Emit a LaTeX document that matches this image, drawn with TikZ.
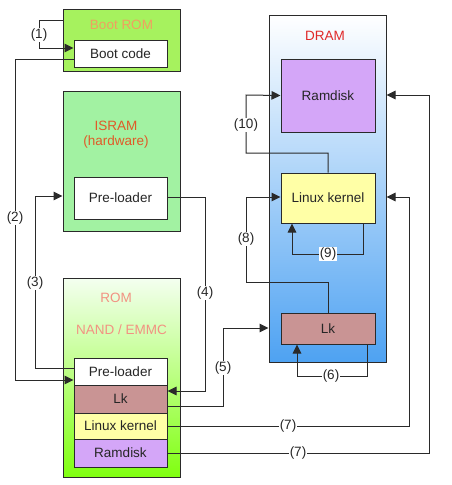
\documentclass[tikz,border=0pt]{standalone}
\usepackage{fontspec}
\setmainfont{Liberation Sans}
\usetikzlibrary{arrows.meta,calc}
\definecolor{lime}{HTML}{A6F25E}
\definecolor{isramg}{HTML}{A2F2A2}
\definecolor{romtop}{HTML}{F4FFF0}
\definecolor{rombot}{HTML}{80FF10}
\definecolor{dramtop}{HTML}{FFFFFF}
\definecolor{drambot}{HTML}{4EA2F2}
\definecolor{lkc}{HTML}{C99494}
\definecolor{kernc}{HTML}{FFFFA6}
\definecolor{ramc}{HTML}{D4A6F8}
\definecolor{lnc}{HTML}{2A2A2A}
\definecolor{t1}{HTML}{F0A060}
\definecolor{t2}{HTML}{E05A28}
\definecolor{t3}{HTML}{F29282}
\definecolor{t4}{HTML}{E02828}
\tikzset{
  box/.style={draw=lnc, line width=1pt, inner sep=0pt, anchor=center},
  txt/.style={font=\fontsize{13.5}{15}\selectfont, text=black!85},
  conn/.style={draw=lnc, line width=1pt},
  arr/.style={conn, -{Triangle[length=9pt,width=8.5pt]}},
  lbl/.style={fill=white, inner sep=1pt, font=\fontsize{13.5}{15}\selectfont, text=black!85},
  ttl/.style={font=\fontsize{13.5}{15}\selectfont}
}
\begin{document}
\begin{tikzpicture}[x=1pt,y=-1pt]
\useasboundingbox[fill=white] (0,0) rectangle (452,485);
% containers
\node[box, fill=lime, minimum width=117pt, minimum height=62pt] (bootrom) at (121.5,40) {};
\node[box, fill=isramg, minimum width=117pt, minimum height=140pt] (isram) at (121.5,161) {};
\node[box, top color=romtop, bottom color=rombot, minimum width=117pt, minimum height=199pt] (rom) at (121.5,377.5) {};
\node[box, top color=dramtop, bottom color=drambot, minimum width=117pt, minimum height=347pt] (dram) at (327.5,188.5) {};
% titles
\node[ttl, text=t1] (tboot) at (121.5,25) {Boot ROM};
\node[ttl, text=t2] (tisram1) at (116,126) {ISRAM};
\node[ttl, text=t2] (tisram2) at (116,142) {(hardware)};
\node[ttl, text=t3] (trom1) at (116,298) {ROM};
\node[ttl, text=t3] (trom2) at (121.5,330) {NAND / EMMC};
\node[ttl, text=t4] (tdram) at (325,36) {DRAM};
% inner boxes
\node[box, txt, fill=white, minimum width=93pt, minimum height=27pt] (bootcode) at (120.5,53.5) {Boot code};
\node[box, txt, fill=white, minimum width=93pt, minimum height=42pt] (preI) at (120.5,198) {Pre-loader};
\node[box, txt, fill=white, minimum width=93pt, minimum height=27pt] (preR) at (120.5,371.5) {Pre-loader};
\node[box, txt, fill=lkc, minimum width=93pt, minimum height=28pt] (lkR) at (120.5,399) {Lk};
\node[box, txt, fill=kernc, minimum width=93pt, minimum height=26pt] (linuxR) at (120.5,426) {Linux kernel};
\node[box, txt, fill=ramc, minimum width=93pt, minimum height=28pt] (ramR) at (120.5,453) {Ramdisk};
\node[box, txt, fill=ramc, minimum width=94pt, minimum height=73pt] (ramD) at (328,95.5) {Ramdisk};
\node[box, txt, fill=kernc, minimum width=94pt, minimum height=50pt] (linuxD) at (328,198) {Linux kernel};
\node[box, txt, fill=lkc, minimum width=94pt, minimum height=31pt] (lkD) at (328,328.5) {Lk};
% connectors
\draw[arr] (bootrom.west |- 0,20) -- (39,20) -- (39,48) -- (bootcode.west |- 0,48);
\node[lbl] (l1) at (39,35) {(1)};
\draw[arr] (bootcode.west |- 0,59) -- (15,59) -- (15,380) -- (preR.west |- 0,380);
\node[lbl] (l2) at (15,218) {(2)};
\draw[arr] (preR.west |- 0,368) -- (35,368) -- (35,196) -- (isram.west |- 0,196);
\node[lbl] (l3) at (35,283) {(3)};
\draw[arr] (preI.east |- 0,197) -- (205,197) -- (205,391) -- (lkR.east |- 0,391);
\node[lbl] (l4) at (205,293) {(4)};
\draw[arr] (lkR.east |- 0,406) -- (223,406) -- (223,328) -- (dram.west |- 0,328);
\node[lbl] (l5) at (223,368) {(5)};
\draw[arr] (lkD.south -| 367,0) -- (367,376) -- (297,376) -- (lkD.south -| 297,0);
\node[lbl] (l6) at (331,376) {(6)};
\draw[arr] (linuxR.east) -- (409,426) -- (409,197) -- (dram.east |- 0,197);
\node[lbl] (l7a) at (288,426) {(7)};
\draw[arr] (ramR.east) -- (429,453) -- (429,95) -- (dram.east |- 0,95);
\node[lbl] (l7b) at (298,453) {(7)};
\draw[arr] (lkD.north) -- (328,282) -- (246,282) -- (246,197) -- (linuxD.west |- 0,197);
\node[lbl] (l8) at (246,239) {(8)};
\draw[arr] (linuxD.south -| 363,0) -- (363,254) -- (292,254) -- (linuxD.south -| 292,0);
\node[lbl] (l9) at (328,254) {(9)};
\draw[arr] (linuxD.north) -- (328,153) -- (246,153) -- (246,95) -- (ramD.west);
\node[lbl] (l10) at (246,125) {(10)};
\end{tikzpicture}
\end{document}
